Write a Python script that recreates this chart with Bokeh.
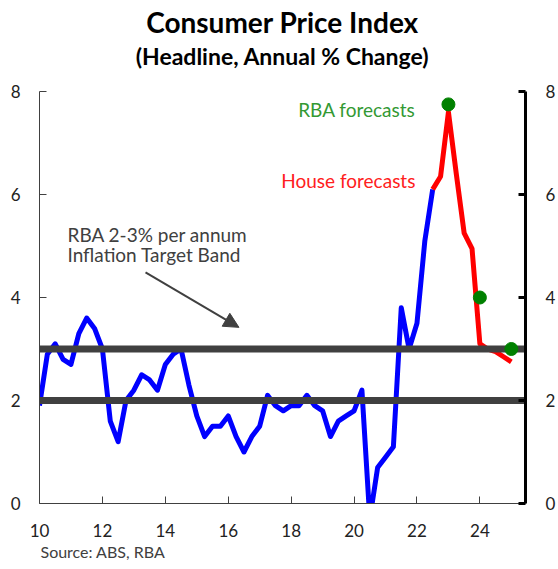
from bokeh.plotting import figure
from bokeh.models import LinearAxis, Range1d, FixedTicker, Label, Arrow, NormalHead, Title
from bokeh.embed import file_html
from bokeh.resources import INLINE

# ---- data ----
actual_q = ["2009-12",
            "2010-03", "2010-06", "2010-09", "2010-12",
            "2011-03", "2011-06", "2011-09", "2011-12",
            "2012-03", "2012-06", "2012-09", "2012-12",
            "2013-03", "2013-06", "2013-09", "2013-12",
            "2014-03", "2014-06", "2014-09", "2014-12",
            "2015-03", "2015-06", "2015-09", "2015-12",
            "2016-03", "2016-06", "2016-09", "2016-12",
            "2017-03", "2017-06", "2017-09", "2017-12",
            "2018-03", "2018-06", "2018-09", "2018-12",
            "2019-03", "2019-06", "2019-09", "2019-12",
            "2020-03", "2020-06", "2020-09", "2020-12",
            "2021-03", "2021-06", "2021-09", "2021-12",
            "2022-03", "2022-06"]
actual_cpi = [1.9,
              2.9, 3.1, 2.8, 2.7,
              3.3, 3.6, 3.4, 3.0,
              1.6, 1.2, 2.0, 2.2,
              2.5, 2.4, 2.2, 2.7,
              2.9, 3.0, 2.3, 1.7,
              1.3, 1.5, 1.5, 1.7,
              1.3, 1.0, 1.3, 1.5,
              2.1, 1.9, 1.8, 1.9,
              1.9, 2.1, 1.9, 1.8,
              1.3, 1.6, 1.7, 1.8,
              2.2, -0.3, 0.7, 0.9,
              1.1, 3.8, 3.0, 3.5,
              5.1, 6.1]

house_q = ["2022-06", "2022-09", "2022-12", "2023-03", "2023-06", "2023-09",
           "2023-12", "2024-03", "2024-06", "2024-09", "2024-12"]
house_cpi = [6.1, 6.35, 7.6, 6.4, 5.25, 4.95, 3.1, 3.0, 2.95, 2.85, 2.75]

rba_q = ["2022-12", "2023-12", "2024-12"]
rba_cpi = [7.75, 4.0, 3.0]

target_band = [2, 3]
x_ticks = [10, 12, 14, 16, 18, 20, 22, 24]
y_ticks = [0, 2, 4, 6, 8]
x_start, x_end = 10, 25.45
y_start, y_end = 0, 8


def pos(q):
    yr, m = q.split("-")
    return int(yr) - 2000 + int(m) / 12


xa = [pos(q) for q in actual_q]
xh = [pos(q) for q in house_q]
xr = [pos(q) for q in rba_q]

FONT = "Lato"
TXT = "#222222"

p = figure(width=558, height=569, output_backend="svg", toolbar_location=None,
           x_range=Range1d(x_start, x_end), y_range=Range1d(y_start, y_end),
           min_border_left=39, min_border_right=33, min_border_top=91,
           min_border_bottom=66, title=None)
p.outline_line_color = None
p.grid.visible = False
p.background_fill_color = "white"
p.border_fill_color = "white"

# x axis
xax = p.xaxis[0]
xax.ticker = FixedTicker(ticks=x_ticks)
xax.axis_line_color = "#404040"
xax.axis_line_width = 1
xax.major_tick_in = 7
xax.major_tick_out = 0
xax.major_tick_line_color = "#404040"
xax.minor_tick_line_color = None
xax.major_label_standoff = 20
xax.major_label_text_font = FONT
xax.major_label_text_font_size = "17px"
xax.major_label_text_color = TXT

# left axis
yax = p.yaxis[0]
yax.ticker = FixedTicker(ticks=y_ticks)
yax.axis_line_color = "#404040"
yax.axis_line_width = 1
yax.major_tick_in = 7
yax.major_tick_out = 0
yax.major_tick_line_color = "#404040"
yax.minor_tick_line_color = None
yax.major_label_standoff = 19
yax.major_label_text_font = FONT
yax.major_label_text_font_size = "17px"
yax.major_label_text_color = TXT

# right axis
rax = LinearAxis(ticker=FixedTicker(ticks=y_ticks))
rax.axis_line_color = "black"
rax.axis_line_width = 3
rax.major_tick_in = 7
rax.major_tick_out = 0
rax.major_tick_line_color = "black"
rax.major_tick_line_width = 3
rax.minor_tick_line_color = None
rax.major_label_standoff = 20
rax.major_label_text_font = FONT
rax.major_label_text_font_size = "17px"
rax.major_label_text_color = TXT
p.add_layout(rax, "right")

# series
p.line(xa, actual_cpi, line_color="#0000ff", line_width=5, line_join="round")
p.line(xh, house_cpi, line_color="#ff0000", line_width=5, line_join="round")
p.segment(x0=[x_start] * len(target_band), y0=target_band,
          x1=[x_end] * len(target_band), y1=target_band,
          line_color="#404040", line_width=7)
p.scatter(xr, rba_cpi, size=13, fill_color="#008000", line_color="#008000")

# annotations
p.add_layout(Label(x=21.95, y=7.66, text="RBA forecasts", text_align="right",
                   text_baseline="middle", text_font=FONT, text_font_size="19px",
                   text_color="#339933"))
p.add_layout(Label(x=21.95, y=6.28, text="House forecasts", text_align="right",
                   text_baseline="middle", text_font=FONT, text_font_size="19px",
                   text_color="#ff2020"))
p.add_layout(Label(x=10.89, y=5.23, text="RBA 2-3% per annum", text_align="left",
                   text_baseline="middle", text_font=FONT, text_font_size="19px",
                   text_color="#404040"))
p.add_layout(Label(x=10.89, y=4.84, text="Inflation Target Band", text_align="left",
                   text_baseline="middle", text_font=FONT, text_font_size="19px",
                   text_color="#404040"))
p.add_layout(Arrow(end=NormalHead(size=15, fill_color="#404040", line_color="#404040"),
                   x_start=13.37, y_start=4.49, x_end=16.34, y_end=3.42,
                   line_color="#404040", line_width=2))

# titles: a blank spacer next to the frame, then subtitle, then main title
p.add_layout(Title(text=" ", align="center", text_font=FONT, text_font_size="1px",
                   standoff=19), "above")
p.add_layout(Title(text="(Headline, Annual % Change)", align="center",
                   text_font=FONT, text_font_size="23px", text_font_style="bold",
                   text_color="black", standoff=0), "above")
p.add_layout(Title(text="Consumer Price Index", align="center",
                   text_font=FONT, text_font_size="28px", text_font_style="bold",
                   text_color="black", standoff=2), "above")

# source note below the x axis
p.add_layout(Title(text="Source: ABS, RBA", align="left", offset=1,
                   vertical_align="top", text_font=FONT, text_font_size="16px",
                   text_font_style="normal", text_color="#404040", standoff=4), "below")

open("out.html", "w").write(file_html(p, INLINE))
